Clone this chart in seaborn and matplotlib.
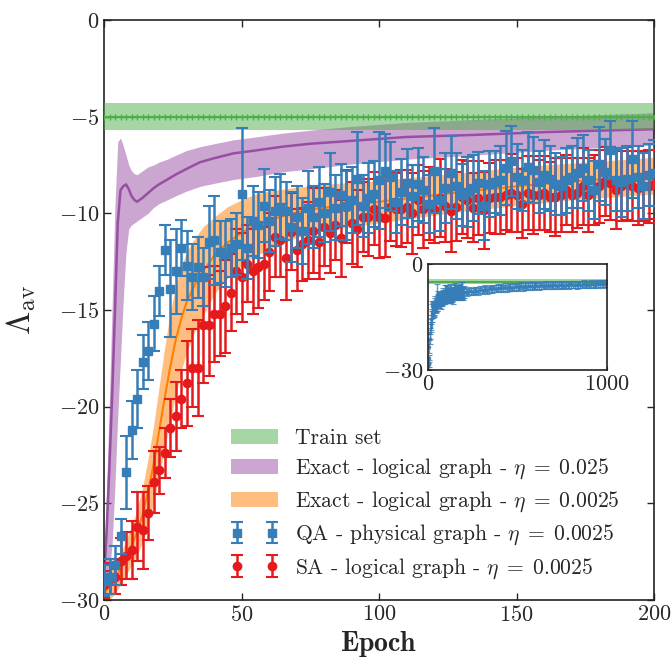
import numpy as np
import seaborn as sns
import matplotlib.pyplot as plt
from matplotlib.patches import Patch

# ---- data ----
train_mean = -5.0
train_std = 0.7

# exact, logical graph, eta = 0.025 (purple)
purple_epoch = [0, 1, 2, 3, 4, 5, 6, 7, 8, 9, 10, 11, 12, 14, 16, 18, 20, 23, 26, 30,
                35, 40, 47, 55, 65, 75, 90, 110, 133, 160, 180, 200]
purple_mean = [-29.0, -26.3, -23.0, -19.3, -15.0, -10.5, -8.8, -8.6, -8.5, -8.75, -9.1, -9.3,
               -9.4, -9.2, -8.95, -8.7, -8.5, -8.25, -8.0, -7.7, -7.35, -7.15, -6.9, -6.75,
               -6.55, -6.4, -6.25, -6.05, -5.95, -5.8, -5.72, -5.65]
purple_hi = [-27.8, -24.0, -19.5, -14.5, -9.5, -6.3, -6.1, -6.5, -7.0, -7.5, -7.8, -7.95,
             -8.0, -7.8, -7.6, -7.5, -7.35, -7.2, -7.0, -6.75, -6.55, -6.4, -6.2, -6.05,
             -5.85, -5.7, -5.5, -5.3, -5.15, -5.0, -4.9, -4.8]
purple_lo = [-30.0, -29.5, -28.5, -27.0, -24.0, -20.5, -17.5, -14.5, -12.0, -10.8, -10.6, -10.5,
             -10.4, -10.2, -10.0, -9.7, -9.5, -9.3, -9.1, -8.85, -8.6, -8.45, -8.25, -8.1,
             -7.85, -7.7, -7.45, -7.2, -7.0, -6.75, -6.6, -6.47]

# exact, logical graph, eta = 0.0025 (orange)
orange_epoch = [0, 2, 4, 6, 8, 10, 12, 14, 16, 18, 20, 22, 24, 26, 28, 30, 33, 36, 40, 45,
                50, 55, 60, 70, 80, 90, 100, 115, 130, 150, 170, 185, 200]
orange_mean = [-29.6, -29.3, -28.9, -28.4, -27.8, -27.2, -26.5, -25.6, -24.4, -23.0, -21.3,
               -19.6, -18.0, -16.6, -15.5, -14.6, -13.7, -13.0, -12.2, -11.5, -11.0, -10.6,
               -10.35, -9.95, -9.7, -9.55, -9.4, -9.15, -8.9, -8.6, -8.35, -8.2, -8.05]
orange_err = [0.6, 0.7, 0.75, 0.8, 0.9, 1.0, 1.2, 1.4, 1.7, 2.0, 2.3, 2.6, 2.8, 2.8, 2.7,
              2.6, 2.4, 2.3, 2.0, 1.85, 1.7, 1.6, 1.5, 1.3, 1.2, 1.15, 1.1, 1.05, 1.0, 1.0,
              0.95, 0.95, 0.95]

# QA - physical graph (blue squares) and SA - logical graph (red circles), every 2 epochs
point_epoch = list(range(0, 201, 2))
qa_mean = [-29.0, -28.8, -28.2, -26.7, -23.4, -21.2, -19.6, -17.7, -17.1, -15.7, -14.0,
           -11.9, -13.9, -13.0, -11.8, -12.7, -13.3, -12.8, -13.3, -11.5, -11.4, -12.0,
           -12.1, -11.8, -11.6, -9.0, -11.8, -10.4, -10.6, -9.6, -10.4, -9.9, -9.65, -9.9,
           -10.7, -10.2, -10.9, -9.7, -10.2, -9.4, -10.0, -8.9, -9.7, -9.05, -9.6, -9.3,
           -8.2, -9.6, -9.2, -9.0, -8.3, -7.8, -8.1, -9.4, -8.9, -8.45, -9.1, -8.5, -8.8,
           -9.5, -7.8, -9.3, -8.7, -7.9, -8.6, -9.05, -8.9, -8.7, -8.45, -9.6, -8.5, -8.4,
           -8.3, -7.65, -7.3, -8.1, -8.3, -7.6, -7.75, -8.4, -8.0, -8.2, -8.5, -8.6, -8.3,
           -8.1, -7.9, -7.65, -8.3, -8.8, -7.45, -7.85, -6.7, -8.3, -8.4, -8.2, -7.2, -8.1,
           -8.6, -8.0, -7.9]
qa_err = [0.8, 0.9, 1.0, 0.9, 1.9, 1.5, 1.5, 1.4, 1.5, 1.4, 1.3, 1.3, 2.5, 2.2, 1.45, 1.8,
          1.7, 1.6, 1.5, 1.9, 2.3, 1.6, 1.7, 1.5, 1.6, 3.4, 1.6, 1.8, 1.7, 1.9, 1.6, 1.8,
          1.7, 1.5, 1.8, 1.6, 1.7, 1.9, 1.6, 1.8, 1.5, 2.0, 1.7, 1.6, 1.8, 1.7, 2.4, 1.6,
          1.8, 1.7, 2.5, 1.9, 1.8, 1.6, 1.7, 1.8, 1.6, 1.9, 1.7, 1.5, 2.2, 1.6, 1.8, 1.9,
          1.7, 1.6, 1.8, 1.7, 1.6, 1.8, 1.7, 1.6, 1.8, 1.9, 1.8, 1.7, 1.6, 1.8, 1.7, 1.6,
          1.8, 1.7, 1.6, 1.5, 1.7, 1.6, 1.8, 1.7, 1.6, 1.5, 1.9, 1.7, 1.5, 1.6, 1.8, 1.7,
          2.0, 1.6, 1.7, 1.6, 1.7]
sa_mean = [-29.2, -28.9, -28.8, -28.0, -27.7, -27.4, -26.2, -26.4, -25.5, -23.9, -23.3,
           -22.4, -21.1, -20.5, -19.6, -18.8, -18.0, -18.0, -15.8, -15.8, -15.2, -15.2,
           -14.8, -14.1, -13.0, -13.3, -12.6, -13.0, -12.8, -12.6, -12.0, -11.2, -11.4,
           -12.3, -10.95, -11.9, -11.6, -11.4, -10.9, -11.5, -10.7, -11.0, -10.6, -11.3,
           -9.65, -10.5, -10.8, -10.2, -10.2, -9.75, -10.2, -10.25, -9.65, -9.8, -9.75,
           -9.65, -10.0, -9.3, -9.8, -9.5, -9.75, -9.2, -9.6, -9.9, -9.65, -9.15, -9.3,
           -9.7, -9.2, -9.85, -9.2, -9.15, -9.15, -9.05, -8.95, -9.05, -9.5, -8.95, -9.05,
           -9.05, -8.95, -9.15, -9.15, -9.05, -8.8, -9.05, -8.95, -8.6, -9.05, -8.8, -8.6,
           -8.35, -8.45, -8.8, -8.6, -8.45, -8.6, -8.7, -8.6, -8.6, -8.5]
sa_err = [0.7, 0.8, 0.9, 1.2, 1.2, 1.5, 1.8, 2.0, 1.4, 1.6, 1.2, 1.3, 1.5, 1.8, 1.5, 2.2,
          2.0, 2.5, 3.0, 2.6, 2.5, 2.2, 2.4, 2.0, 2.2, 2.3, 2.0, 2.2, 2.1, 1.9, 2.0, 2.1,
          1.9, 2.2, 2.0, 2.1, 1.9, 2.0, 2.2, 1.9, 2.0, 2.1, 1.8, 2.0, 1.9, 2.1, 2.0, 1.8,
          2.0, 1.9, 2.1, 2.0, 1.8, 1.9, 2.0, 1.9, 2.1, 1.8, 2.0, 1.9, 1.8, 2.0, 1.9, 2.1,
          1.8, 1.9, 2.0, 1.8, 1.9, 2.0, 1.8, 1.9, 1.9, 1.8, 2.0, 1.9, 1.8, 1.9, 2.0, 1.8,
          1.9, 1.8, 2.0, 1.9, 1.8, 1.9, 1.8, 2.0, 1.9, 1.8, 1.9, 1.8, 1.9, 2.0, 1.8, 1.9,
          1.8, 1.9, 1.8, 1.9, 1.8]

# inset: QA run continued to 1000 epochs
qa_long_epoch = list(range(210, 1001, 10))
qa_long_mean = [-7.8, -8.1, -7.6, -7.7, -7.9, -7.4, -7.5, -7.7, -7.2, -7.4,
                -7.3, -7.0, -7.4, -7.1, -6.9, -7.2, -6.8, -7.0, -6.7, -6.9,
                -6.6, -6.9, -6.5, -6.8, -6.6, -6.4, -6.7, -6.5, -6.3, -6.6,
                -6.4, -6.2, -6.5, -6.3, -6.4, -6.1, -6.3, -6.2, -6.4, -6.0,
                -6.2, -6.3, -6.0, -6.1, -6.2, -5.9, -6.1, -6.0, -6.2, -5.9,
                -6.0, -6.1, -5.8, -6.0, -5.9, -6.1, -5.8, -5.9, -6.0, -5.7,
                -5.9, -5.8, -6.0, -5.7, -5.8, -5.9, -5.6, -5.8, -5.7, -5.8,
                -5.6, -5.7, -5.8, -5.5, -5.7, -5.6, -5.5, -5.7, -5.6, -5.5]
qa_long_err = 1.0

# ColorBrewer Set1
GREEN, PURPLE, ORANGE = "#4daf4a", "#984ea3", "#ff7f00"
BLUE, RED = "#377eb8", "#e41a1c"

sns.set_style("ticks")
plt.rcParams["font.family"] = "serif"
plt.rcParams["font.serif"] = ["cmr10", "DejaVu Serif"]
plt.rcParams["mathtext.fontset"] = "cm"
plt.rcParams["axes.formatter.use_mathtext"] = True
plt.rcParams["axes.unicode_minus"] = True

fig = plt.figure(figsize=(6.71, 6.63), dpi=100)
ax = fig.add_axes([0.155, 0.095, 0.8197, 0.8748])

# train set
train_epoch = np.arange(0, 201, 2)
ax.fill_between([0, 200], train_mean - train_std, train_mean + train_std,
                color=GREEN, alpha=0.5, lw=0, zorder=3)
ax.plot(train_epoch, np.full(len(train_epoch), train_mean), color=GREEN, lw=1.5,
        marker="+", ms=4, mew=1, zorder=3)

# exact curves
ax.fill_between(purple_epoch, purple_lo, purple_hi, color=PURPLE, alpha=0.5, lw=0, zorder=2)
sns.lineplot(x=purple_epoch, y=purple_mean, color=PURPLE, lw=1.8, ax=ax, zorder=2)
o_lo = np.array(orange_mean) - np.array(orange_err)
o_hi = np.array(orange_mean) + np.array(orange_err)
ax.fill_between(orange_epoch, o_lo, o_hi, color=ORANGE, alpha=0.5, lw=0, zorder=2)
sns.lineplot(x=orange_epoch, y=orange_mean, color=ORANGE, lw=1.5, ax=ax, zorder=2)

# annealer points
sa = ax.errorbar(point_epoch, sa_mean, yerr=sa_err, fmt="o", color=RED, ms=6,
                 elinewidth=1.8, capsize=4, capthick=1.5, zorder=4)
qa = ax.errorbar(point_epoch, qa_mean, yerr=qa_err, fmt="s", color=BLUE, ms=6,
                 elinewidth=1.8, capsize=4, capthick=1.5, zorder=5)

ax.set_xlim(0, 200)
ax.set_ylim(-30, 0)
ax.set_xticks([0, 50, 100, 150, 200])
ax.set_yticks([0, -5, -10, -15, -20, -25, -30])
ax.tick_params(direction="in", top=True, right=True, labelsize=16, length=5, width=1)
for s in ax.spines.values():
    s.set_linewidth(1.2)
    s.set_color("#222222")
ax.set_xlabel(r"$\mathbf{Epoch}$", fontsize=20, labelpad=3)
ax.set_ylabel(r"$\Lambda_{\rm av}$", fontsize=24, labelpad=15)

handles = [Patch(facecolor=GREEN, alpha=0.5, lw=0),
           Patch(facecolor=PURPLE, alpha=0.5, lw=0),
           Patch(facecolor=ORANGE, alpha=0.5, lw=0),
           qa, sa]
labels = ["Train set",
          r"Exact - logical graph - $\eta\;=\;0.025$",
          r"Exact - logical graph - $\eta\;=\;0.0025$",
          r"QA - physical graph - $\eta\;=\;0.0025$",
          r"SA - logical graph - $\eta\;=\;0.0025$"]
ax.legend(handles, labels, loc="lower left", bbox_to_anchor=(0.195, 0.0), frameon=False,
          fontsize=15.5, numpoints=2, handlelength=2.2, labelspacing=0.4, handletextpad=0.8)

# inset
axin = fig.add_axes([0.6379, 0.4419, 0.2668, 0.1599])
axin.fill_between([0, 1000], train_mean - train_std, train_mean + train_std,
                  color=GREEN, alpha=0.5, lw=0)
axin.plot([0, 1000], [train_mean, train_mean], color=GREEN, lw=1.5)
axin.errorbar(point_epoch + qa_long_epoch, qa_mean + qa_long_mean,
              yerr=qa_err + [qa_long_err] * len(qa_long_epoch), fmt="s", color=BLUE,
              ms=2, elinewidth=1, capsize=2, capthick=0.8, alpha=0.8)
axin.set_xlim(0, 1000)
axin.set_ylim(-30, 0)
axin.set_xticks([0, 1000])
axin.set_yticks([0, -30])
axin.tick_params(direction="in", labelsize=16, length=3)
for s in axin.spines.values():
    s.set_linewidth(1.2)
    s.set_color("#222222")

plt.savefig("out.png", dpi=100)
